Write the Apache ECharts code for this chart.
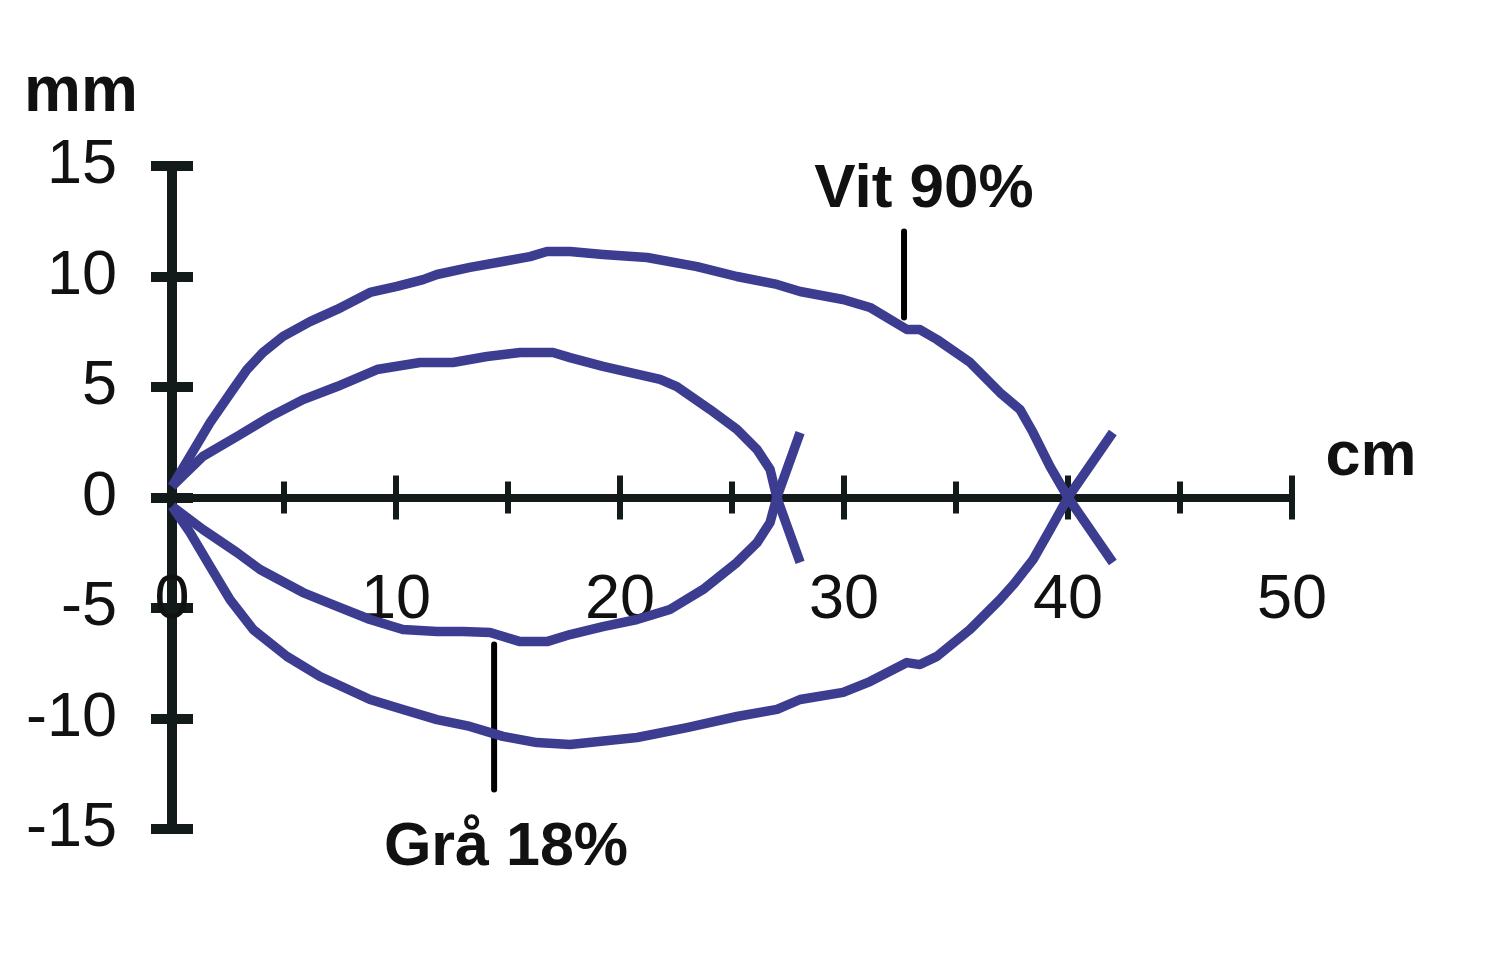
<!DOCTYPE html>
<html>
<head>
<meta charset="utf-8">
<script src="https://cdn.jsdelivr.net/npm/echarts@6/dist/echarts.min.js"></script>
<style>
html,body{margin:0;padding:0;background:#fff;}
#c{width:1500px;height:975px;}
</style>
</head>
<body>
<div id="c"></div>
<script>
// ---- data (cm, mm) ----
const vitUpper = [[0,0.5],[0.8,1.86],[1.7,3.39],[2.72,4.89],[3.35,5.79],[4.06,6.56],[4.96,7.29],[6.16,7.96],[7.37,8.51],[8.84,9.28],[10.04,9.55],[11.21,9.86],[11.83,10.09],[13.3,10.41],[14.77,10.68],[15.98,10.9],[16.74,11.13],[17.77,11.13],[19.24,11.0],[21.21,10.86],[23.44,10.45],[25.22,10.0],[27.01,9.64],[28.04,9.32],[29.96,8.96],[31.16,8.6],[32.81,7.6],[33.39,7.6],[34.15,7.15],[35.63,6.11],[36.96,4.75],[37.86,3.98],[38.44,2.94],[39.2,1.4],[40,0],[42,-2.94]];
const vitLower = [[0,-0.4],[0.8,-1.58],[1.7,-3.12],[2.59,-4.62],[3.62,-5.97],[5.13,-7.19],[6.61,-8.1],[8.84,-9.14],[10.31,-9.59],[11.83,-10.05],[13.3,-10.36],[14.77,-10.81],[16.29,-11.09],[17.77,-11.18],[20.76,-10.86],[22.99,-10.41],[25.22,-9.91],[27.01,-9.59],[28.04,-9.14],[29.96,-8.82],[31.16,-8.33],[32.81,-7.47],[33.39,-7.56],[34.15,-7.19],[35.63,-5.97],[36.96,-4.62],[37.6,-3.9],[38.44,-2.81],[39.2,-1.45],[40,0],[42,2.94]];
const graUpper = [[0,0.5],[1.38,1.86],[2.9,2.76],[4.38,3.66],[5.85,4.43],[7.37,5.02],[9.15,5.79],[11.07,6.11],[12.54,6.11],[14.06,6.38],[15.54,6.56],[17.01,6.56],[17.77,6.33],[19.24,5.93],[21.79,5.34],[22.54,5.02],[24.02,3.98],[25.22,3.08],[26.12,2.17],[26.7,1.27],[27,0],[28.04,-2.94]];
const graLower = [[0,-0.4],[1.38,-1.45],[2.9,-2.49],[3.93,-3.26],[5.85,-4.3],[7.37,-4.93],[8.84,-5.52],[10.31,-5.97],[11.83,-6.06],[12.99,-6.06],[14.2,-6.11],[15.54,-6.52],[16.74,-6.52],[17.77,-6.2],[19.24,-5.84],[20.76,-5.52],[22.23,-5.07],[23.71,-4.16],[25.22,-2.94],[26.12,-2.04],[26.7,-1.13],[27,0],[28.04,2.94]];
const vitPointer = [[32.68,12.04],[32.68,8.14]];
const graPointer = [[14.38,-6.65],[14.38,-13.21]];
const xRange = [0, 50];
const yRange = [-15, 15];
const xStep = 10;
const yStep = 5;
const labels = { y: 'mm', x: 'cm', vit: 'Vit 90%', gra: 'Grå 18%' };

// ---- styles ----
const AX = '#121b19';
const CURVE = '#3c3d91';
const FONT = '"Liberation Sans", Arial, Helvetica, sans-serif';
const GRID = {left:172, top:166, width:1120, height:663};

const chart = echarts.init(document.getElementById('c'), null, {renderer:'canvas'});

function xAxisDef(pos){
  return {
    type:'value', min:xRange[0], max:xRange[1], interval:xStep, position:pos,
    axisLine:{show:true, onZero:true, lineStyle:{color:AX, width:8, cap:'butt'}},
    axisTick:{show:true, inside:false, length:22, lineStyle:{color:AX, width:6}},
    minorTick:{show:true, splitNumber:2, length:16, lineStyle:{color:AX, width:6}},
    axisLabel:{show:false},
    splitLine:{show:false}, minorSplitLine:{show:false}
  };
}
// label-only x axis, shifted up onto the zero line
function xLabelAxis(){
  const zeroFromBottom = GRID.height * (0 - yRange[0]) / (yRange[1] - yRange[0]);
  return {
    type:'value', min:xRange[0], max:xRange[1], interval:xStep, position:'bottom',
    offset:-zeroFromBottom,
    axisLine:{show:false, onZero:false}, axisTick:{show:false},
    axisLabel:{show:true, margin:72, fontSize:63, color:'#111', fontFamily:FONT, hideOverlap:false, showMinLabel:true, showMaxLabel:true},
    splitLine:{show:false}
  };
}
function yAxisDef(pos, showLabel){
  return {
    type:'value', min:yRange[0], max:yRange[1], interval:yStep, position:pos,
    axisLine:{show:true, onZero:true, lineStyle:{color:AX, width:10, cap:'butt'}},
    axisTick:{show:true, inside:false, length:21, lineStyle:{color:AX, width:10}},
    axisLabel:{show:showLabel, margin:55, fontSize:63, color:'#111', fontFamily:FONT, hideOverlap:false, showMinLabel:true, showMaxLabel:true},
    splitLine:{show:false}
  };
}
function curve(data){
  return {type:'line', data:data, xAxisIndex:0, yAxisIndex:0, showSymbol:false, symbol:'none', smooth:false, clip:false,
    lineStyle:{color:CURVE, width:9.5, join:'round', cap:'butt'}, z:5, animation:false};
}
function pointer(data){
  return {type:'line', data:data, xAxisIndex:0, yAxisIndex:0, showSymbol:false, symbol:'none', clip:false,
    lineStyle:{color:'#000', width:6, cap:'round'}, z:4, animation:false};
}

chart.setOption({
  animation:false,
  backgroundColor:'#fff',
  grid:Object.assign({containLabel:false, outerBoundsMode:'none'}, GRID),
  xAxis:[xAxisDef('bottom'), xAxisDef('top'), xLabelAxis()],
  yAxis:[yAxisDef('left', true), yAxisDef('right', false)],
  series:[curve(vitUpper), curve(vitLower), curve(graUpper), curve(graLower), pointer(vitPointer), pointer(graPointer)],
  graphic:[
    {type:'text', style:{text:labels.y, x:81, y:93, textAlign:'center', textVerticalAlign:'middle', font:'bold 64px '+FONT, fill:'#111'}},
    {type:'text', style:{text:labels.x, x:1371, y:458, textAlign:'center', textVerticalAlign:'middle', font:'bold 63px '+FONT, fill:'#111'}},
    {type:'text', style:{text:labels.vit, x:924, y:190, textAlign:'center', textVerticalAlign:'middle', font:'bold 62px '+FONT, fill:'#111'}},
    {type:'text', style:{text:labels.gra, x:506, y:848, textAlign:'center', textVerticalAlign:'middle', font:'bold 61px '+FONT, fill:'#111'}}
  ]
});
</script>
</body>
</html>
